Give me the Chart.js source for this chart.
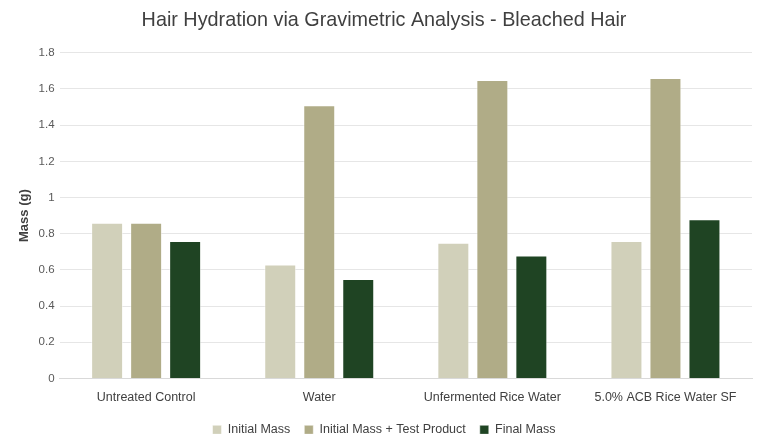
<!DOCTYPE html>
<html><head><meta charset="utf-8">
<script src="https://cdn.jsdelivr.net/npm/chart.js@4"></script>
<style>html,body{margin:0;padding:0;background:#fff}#w{width:757px;height:434px}</style>
</head><body><div id="w"><canvas id="c"></canvas></div>
<script>
const categories = ["Untreated Control", "Water", "Unfermented Rice Water", "5.0% ACB Rice Water SF"];
const initialMass = [0.86, 0.63, 0.75, 0.76];
const initialPlusProduct = [0.86, 1.51, 1.65, 1.66];
const finalMass = [0.76, 0.55, 0.68, 0.88];
const seriesNames = ["Initial Mass", "Initial Mass + Test Product", "Final Mass"];
const yTicks = [0, 0.2, 0.4, 0.6, 0.8, 1, 1.2, 1.4, 1.6, 1.8];

const FONT = "'Liberation Sans', sans-serif";
const colors = ["#D1D0BA", "#B0AC87", "#1F4423"];
Chart.defaults.font.family = FONT;
Chart.defaults.color = "#595959";

new Chart(document.getElementById('c'), {
  type: 'bar',
  data: {
    labels: categories,
    datasets: [initialMass, initialPlusProduct, finalMass].map((d, i) => ({
      label: seriesNames[i], data: d, backgroundColor: colors[i],
      borderColor: "rgba(255,255,255,0.5)", borderWidth: 1,
      categoryPercentage: 0.676, barPercentage: 0.82
    }))
  },
  options: {
    responsive: true, maintainAspectRatio: false, animation: false,
    layout: { padding: { left: 16, right: 5, top: 4, bottom: -12 } },
    plugins: {
      title: { display: true, text: "Hair Hydration via Gravimetric Analysis - Bleached Hair",
        color: "#404040", font: { size: 19.8, weight: 'normal', family: FONT }, padding: { top: 5, bottom: 20 } },
      legend: { position: 'bottom', labels: { boxWidth: 9, boxHeight: 9, color: "#404040", font: { size: 12.5 }, padding: 14 } },
      tooltip: { enabled: false }
    },
    scales: {
      x: { grid: { display: false }, border: { color: "#D9D9D9" },
        ticks: { color: "#404040", font: { size: 12.5 }, padding: 4 } },
      y: { min: 0, max: 1.8,
        afterBuildTicks: s => { s.ticks = yTicks.map(v => ({ value: v })); },
        grid: { color: "#E6E6E6", drawTicks: false }, border: { display: false },
        ticks: { color: "#595959", font: { size: 11.5 }, padding: 5, callback: v => String(v) },
        title: { display: true, text: "Mass (g)", color: "#404040", font: { size: 13, weight: 'bold' }, padding: 1 } }
    }
  }
});
</script></body></html>
